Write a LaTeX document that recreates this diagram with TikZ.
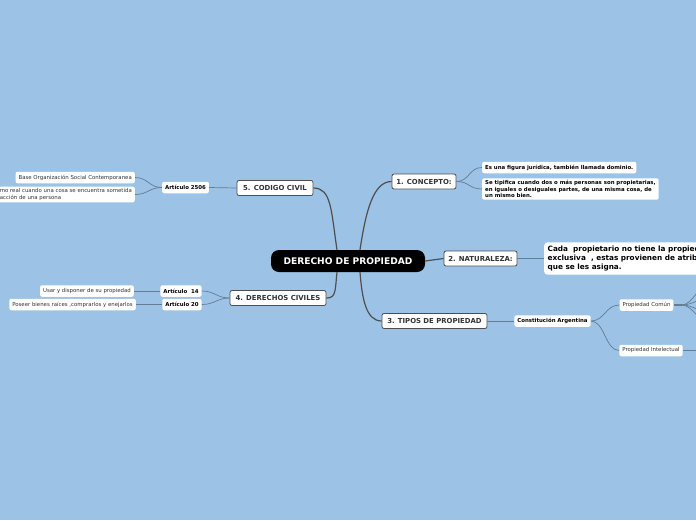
\documentclass[tikz,border=0pt]{standalone}
\usepackage{fontspec}
\setmainfont{DejaVu Sans}
\usetikzlibrary{positioning}
\definecolor{fondo}{RGB}{156,195,230}
\definecolor{rama}{RGB}{78,78,78}
\definecolor{ramita}{RGB}{100,124,148}
\definecolor{letra}{RGB}{51,51,51}
\tikzset{
  raiz/.style={fill=black,text=white,rounded corners=8pt,minimum width=154pt,minimum height=22pt,inner sep=0pt,font=\bfseries\fontsize{9.1}{10}\selectfont},
  tema/.style={draw=rama,fill=white,rounded corners=2pt,line width=.8pt,text=letra,inner sep=0pt,minimum height=15pt,font=\bfseries\fontsize{6.9}{7.5}\selectfont},
  hoja/.style={fill=white,rounded corners=2pt,inner xsep=3pt,inner ysep=0pt,minimum height=11.5pt,text=letra,font=\fontsize{5.4}{6.5}\selectfont},
  hojab/.style={hoja,text=black,font=\bfseries\fontsize{5.4}{6.5}\selectfont},
  linea/.style={draw=rama,line width=1.2pt},
  lineita/.style={draw=ramita,line width=.7pt}
}
\begin{document}
\begin{tikzpicture}[x=1pt,y=-1pt]
\clip (0,0) rectangle (696,520);
\fill[fondo] (0,0) rectangle (696,520);
% nodo central y temas
\node[raiz] (raiz) at (348,261) {DERECHO DE PROPIEDAD};
\node[tema,minimum width=64pt] (concepto) at (424,181.5) {1. CONCEPTO:};
\node[tema,minimum width=73pt] (naturaleza) at (480.5,258.5) {2. NATURALEZA:};
\node[tema,minimum width=105pt] (tipos) at (434.5,321) {3. TIPOS DE PROPIEDAD};
\node[tema,minimum width=96pt] (civiles) at (278,298) {4. DERECHOS CIVILES};
\node[tema,minimum width=76pt] (codigo) at (275,188) {5. CODIGO CIVIL};
% 1. concepto
\node[hojab,anchor=west] (figura) at (482,167.5) {Es una figura jurídica, también llamada dominio.};
\node[hojab,anchor=west,align=left,inner ysep=2pt] (tipifica) at (482,189) {Se tipifica cuando dos o más personas son propietarias,\\en iguales o desiguales partes, de una misma cosa, de\\un mismo bien.};
% 2. naturaleza
\node[fill=white,rounded corners=3pt,anchor=west,align=left,inner sep=3.5pt,font=\bfseries\fontsize{7.3}{9}\selectfont] (cada) at (544,258.5) {Cada\ \ propietario no tiene la propiedad\\exclusiva\ \ , estas provienen de atribuciones\\que se les asigna.};
% 3. tipos
\node[hojab] (constitucion) at (552.5,321) {Constitución Argentina};
\node[hoja] (comun) at (646.5,305) {Propiedad Común};
\node[hoja] (intelectual) at (651,350.5) {Propiedad Intelectual};
\coordinate (c1) at (712,281);
\coordinate (c2) at (712,297);
\coordinate (c3) at (712,313);
\coordinate (c4) at (712,325);
\coordinate (c5) at (712,350.5);
% 4. derechos civiles
\node[hojab] (art14) at (181,291) {Artículo\ \ 14};
\node[hojab] (art20) at (182,304.5) {Artículo 20};
\node[hoja,anchor=east] (usar) at (134,291) {Usar y disponer de su propiedad};
\node[hoja,anchor=east] (poseer) at (136,304.5) {Poseer bienes raíces ,comprarlos y enejarlos};
% 5. codigo civil
\node[hojab] (art2506) at (185.5,187.5) {Artículo 2506};
\node[hoja,anchor=east] (base) at (135,177.5) {Base Organización Social Contemporanea};
\node[hoja,anchor=east,align=left,inner ysep=2pt] (sometida) at (135,194.5) {mo real cuando una cosa se encuentra sometida\\acción de una persona};
% ramas principales
\draw[linea] (codigo.east) .. controls +(18,0) and +(-6,-40) .. ([xshift=-11pt]raiz.north);
\draw[linea] (concepto.west) .. controls +(-18,0) and +(6,-40) .. ([xshift=12pt]raiz.north);
\draw[linea] (raiz.east) -- (naturaleza.west);
\draw[linea] (civiles.east) .. controls +(10,0) and +(-2,18) .. ([xshift=-11pt]raiz.south);
\draw[linea] (tipos.west) .. controls +(-16,0) and +(2,25) .. ([xshift=12pt]raiz.south);
% ramas secundarias
\draw[lineita] (concepto.east) .. controls +(13,0) and +(-13,0) .. (figura.west);
\draw[lineita] (concepto.east) .. controls +(13,0) and +(-13,0) .. (tipifica.west);
\draw[lineita] (naturaleza.east) -- (cada.west);
\draw[lineita] (tipos.east) -- (constitucion.west);
\draw[lineita] (constitucion.east) .. controls +(14,0) and +(-14,0) .. (comun.west);
\draw[lineita] (constitucion.east) .. controls +(14,0) and +(-14,0) .. (intelectual.west);
\draw[lineita,line width=1.6pt] (comun.east) -- ++(8,0) coordinate (fan);
\foreach \c in {c1,c2,c3,c4}
  \draw[lineita] (fan) .. controls +(12,0) and +(-12,0) .. (\c);
\draw[lineita,line width=1.2pt] (intelectual.east) -- (c5);
\draw[lineita] (civiles.west) .. controls +(-13,0) and +(13,0) .. (art14.east);
\draw[lineita] (civiles.west) .. controls +(-13,0) and +(13,0) .. (art20.east);
\draw[lineita] (art14.west) -- (usar.east);
\draw[lineita] (art20.west) -- (poseer.east);
\draw[lineita] (codigo.west) -- (art2506.east);
\draw[lineita] (art2506.west) .. controls +(-13,0) and +(13,0) .. (base.east);
\draw[lineita] (art2506.west) .. controls +(-13,0) and +(13,0) .. (sometida.east);
\end{tikzpicture}
\end{document}
